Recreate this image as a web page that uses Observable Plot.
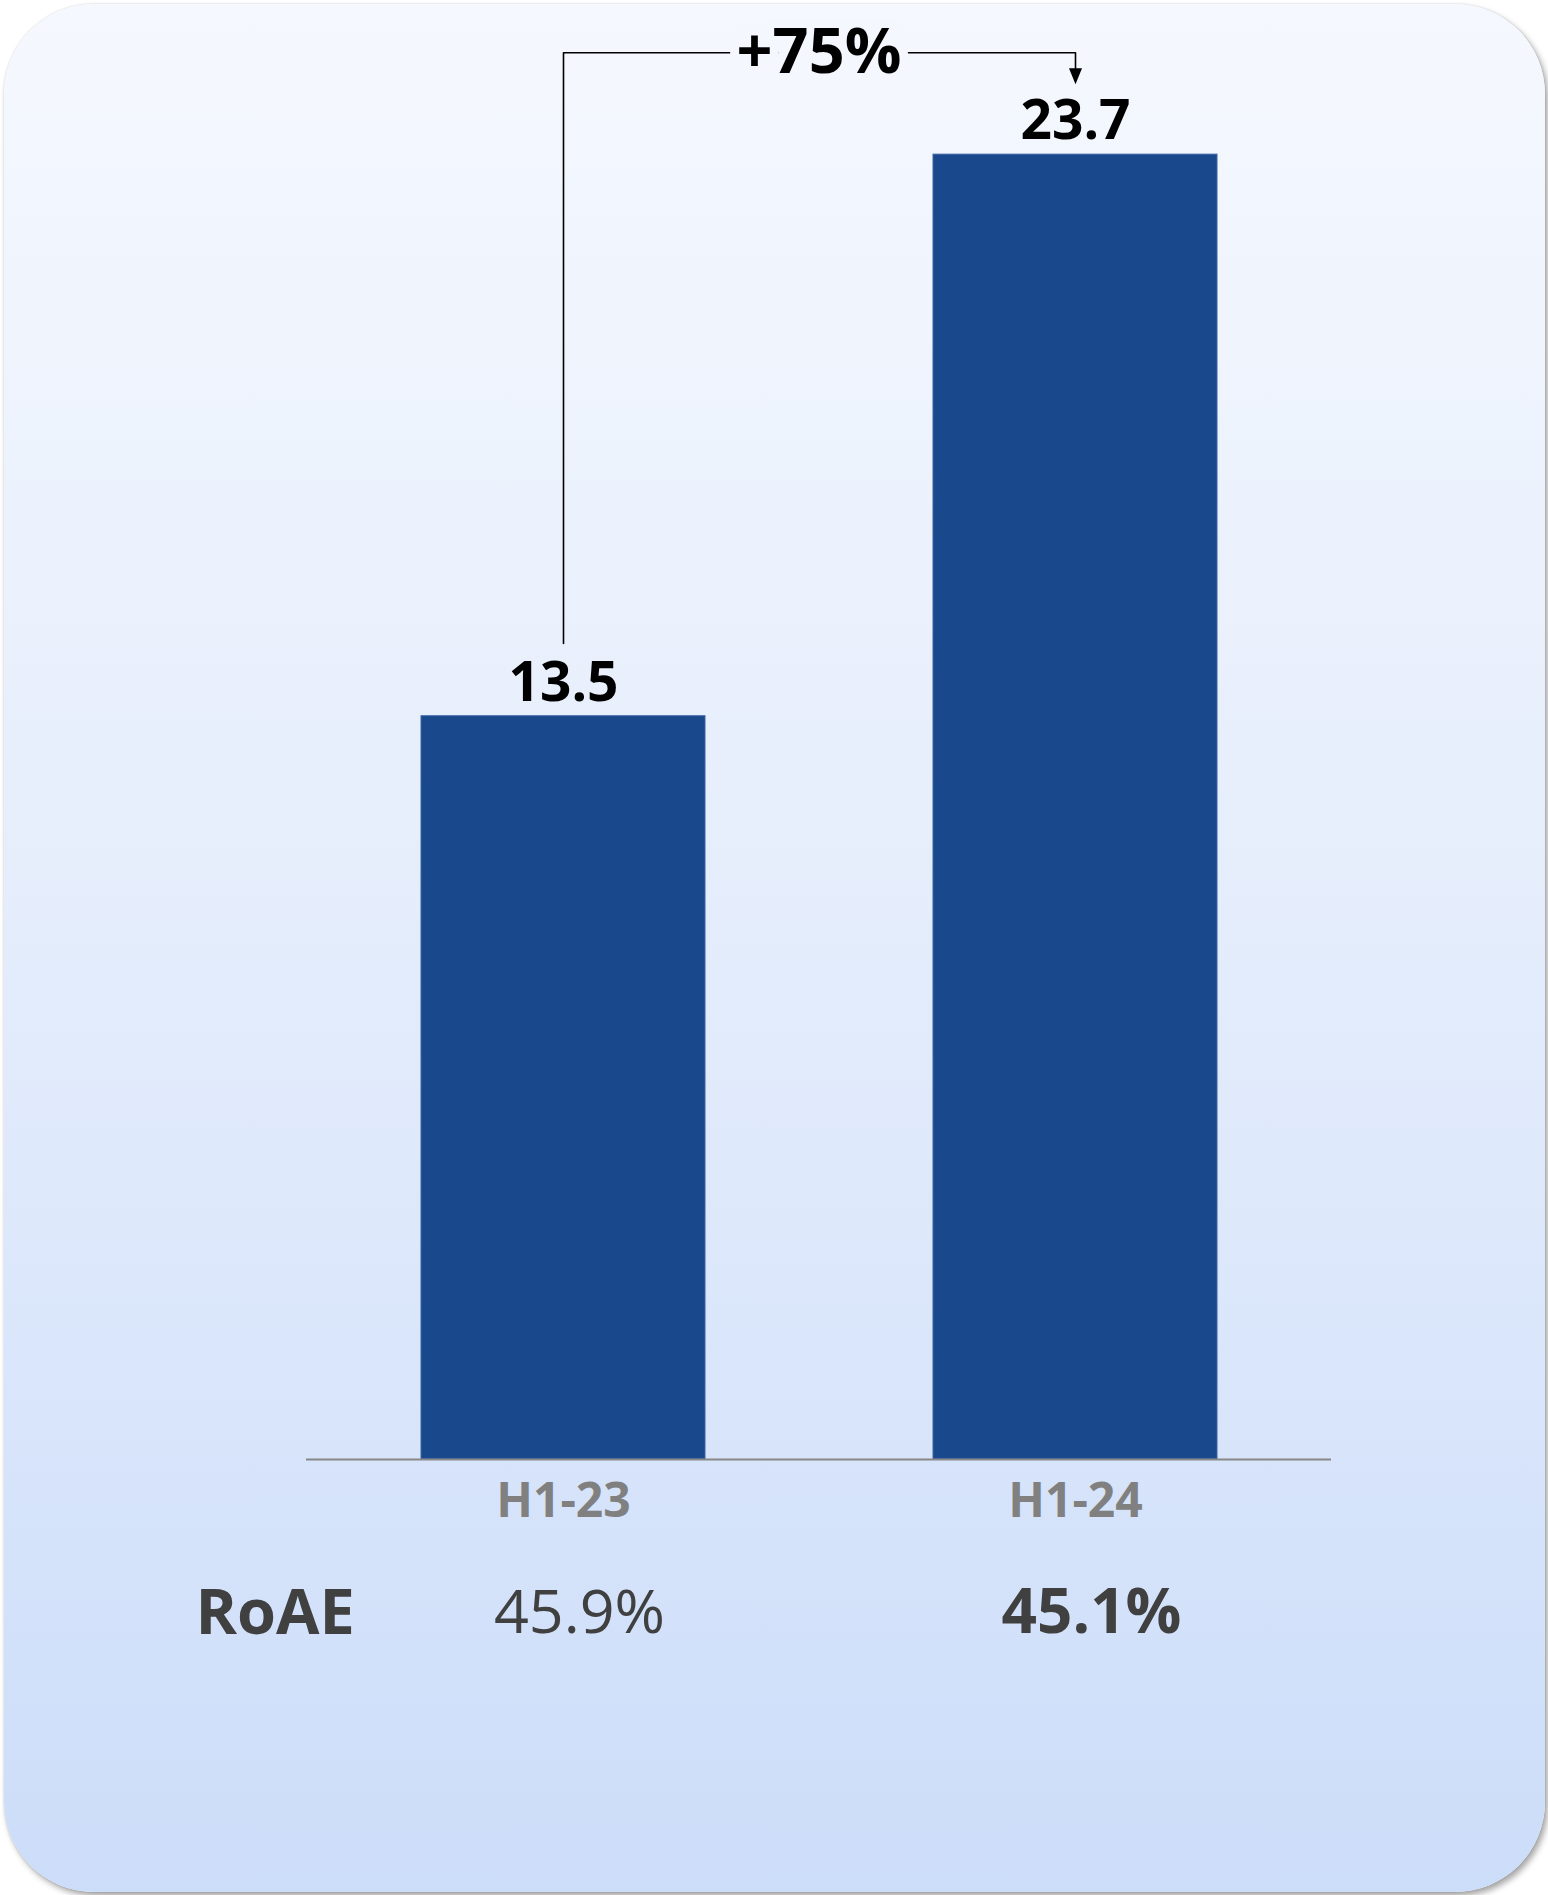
<!DOCTYPE html>
<html>
<head>
<meta charset="utf-8">
<script src="https://cdn.jsdelivr.net/npm/d3@7"></script>
<script src="https://cdn.jsdelivr.net/npm/@observablehq/plot@0.6"></script>
<style>
  html, body { margin: 0; padding: 0; background: #ffffff; }
  #wrap { position: relative; width: 1548px; height: 1895px; overflow: hidden; }
  #card {
    position: absolute; left: 4px; top: 4px; width: 1541px; height: 1888px;
    border-radius: 90px;
    background: linear-gradient(180deg, #f5f8fe 0%, #e6eefc 45%, #ccddf9 100%);
    box-shadow: 3px 4px 6px rgba(0,0,0,0.35), 0 0 2px rgba(0,0,0,0.18);
  }
  #chart { position: absolute; left: 0; top: 0; }
</style>
</head>
<body>
<div id="wrap">
  <div id="card"></div>
  <div id="chart"></div>
</div>
<script>
// ---- data ----
const categories = ["H1-23", "H1-24"];
const values = [13.5, 23.7];
const valueLabels = ["13.5", "23.7"];
const roaeLabel = "RoAE";
const roaeValues = ["45.9%", "45.1%"];
const changeLabel = "+75%";

const bars = categories.map((c, i) => ({cat: c, value: values[i], label: valueLabels[i], roae: roaeValues[i]}));

// bracket geometry (in value units, derived from data)
const bracketTop = 25.55;
const bracket = [
  {cat: categories[0], y: values[0] + 1.32},
  {cat: categories[0], y: bracketTop},
  {cat: categories[1], y: bracketTop},
  {cat: categories[1], y: values[1] + 1.35}
];
const arrowTip = [{cat: categories[1], y: values[1] + 1.28}];

const downTriangle = {
  draw(ctx) {
    ctx.moveTo(0, 0);
    ctx.lineTo(-6.5, -16);
    ctx.lineTo(6.5, -16);
    ctx.closePath();
  }
};

const font = "'Open Sans', 'Noto Sans', sans-serif";

const chart = Plot.plot({
  width: 1548,
  height: 1895,
  marginLeft: 306,
  marginRight: 217,
  marginTop: 0,
  marginBottom: 436,
  style: {fontFamily: font, background: "transparent", overflow: "visible"},
  x: {domain: categories, paddingInner: 0.446, paddingOuter: 0.223, axis: null},
  y: {domain: [0, 26.5], axis: null},
  marks: [
    Plot.barY(bars, {x: "cat", y: "value", fill: "#1a488c", stroke: "#3b64a3", strokeWidth: 1}),
    Plot.ruleY([0], {stroke: "#888888", strokeWidth: 2}),
    // value labels
    Plot.text(bars, {x: "cat", y: "value", text: "label", dy: -33, lineAnchor: "middle",
      fontSize: 55, fontWeight: "bold", fill: "#000000"}),
    // bracket
    Plot.line(bracket, {x: "cat", y: "y", stroke: "#000000", strokeWidth: 1.6, curve: "linear"}),
    Plot.dot(arrowTip, {x: "cat", y: "y", symbol: downTriangle, fill: "#000000", stroke: null, r: 5}),
    Plot.text([changeLabel], {y: [bracketTop], text: d => d, frameAnchor: "top", lineAnchor: "middle",
      fontSize: 63, fontWeight: "bold", fill: "#000000", stroke: "#f4f7fe", strokeWidth: 18}),
    // category labels
    Plot.text(bars, {x: "cat", text: "cat", frameAnchor: "bottom", dy: 42, lineAnchor: "middle",
      fontSize: 48, fontWeight: "bold", fill: "#808080"}),
    // RoAE row
    Plot.text([roaeLabel], {text: d => d, frameAnchor: "bottom-left", textAnchor: "start", dx: -111, dy: 154,
      lineAnchor: "middle", fontSize: 63, fontWeight: "bold", fill: "#404040"}),
    Plot.text(bars, {filter: (d, i) => i === 0, x: "cat", text: "roae", frameAnchor: "bottom", dx: 16, dy: 154,
      lineAnchor: "middle", fontSize: 61, fontWeight: "normal", fill: "#404040"}),
    Plot.text(bars, {filter: (d, i) => i === bars.length - 1, x: "cat", text: "roae", frameAnchor: "bottom", dx: 16, dy: 154,
      lineAnchor: "middle", fontSize: 62, fontWeight: "bold", fill: "#404040"})
  ]
});
document.getElementById("chart").appendChild(chart);
</script>
</body>
</html>
